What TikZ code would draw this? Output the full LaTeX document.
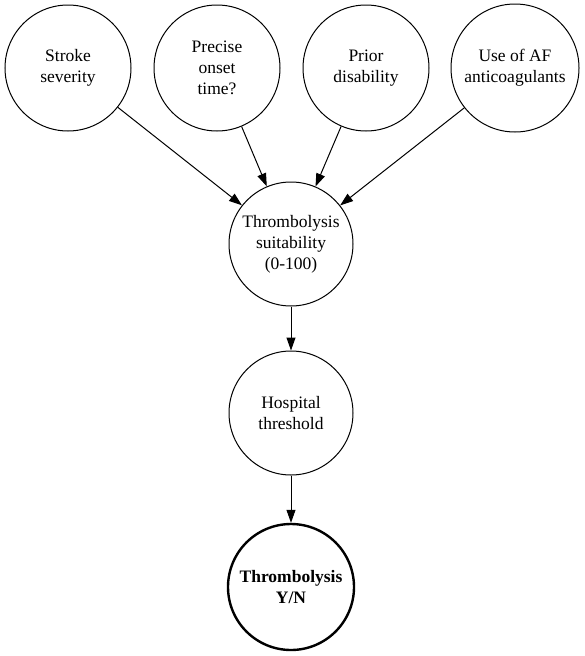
\documentclass[tikz,border=0pt]{standalone}
\usepackage{fontspec}
\setmainfont{Liberation Serif}
\usetikzlibrary{arrows.meta}
\begin{document}
\begin{tikzpicture}[x=1pt,y=-1pt,
  nd/.style={circle,draw,line width=1pt,minimum size=126pt,inner sep=0pt,align=center,font=\fontsize{17.5}{21}\selectfont},
  ndb/.style={nd,line width=2.4pt,font=\fontsize{17.5}{21}\selectfont\bfseries},
  arr/.style={draw,line width=1pt,-{Triangle[length=13pt,width=9pt]}}]
\useasboundingbox (0,0) rectangle (584,656);
\node[nd] (a) at (68,68) {Stroke\\severity};
\node[nd] (b) at (217,68) {Precise\\onset\\time?};
\node[nd] (c) at (366,68) {Prior\\disability};
\node[nd,minimum size=128pt] (d) at (515,68) {Use of AF\\anticoagulants};
\node[nd,minimum size=124pt] (s) at (291,244) {Thrombolysis\\suitability\\(0-100)};
\node[nd,minimum size=124pt] (h) at (291,413) {Hospital\\threshold};
\node[ndb,minimum size=126pt] (y) at (291,587) {Thrombolysis\\Y/N};
\draw[arr] (a) -- (s);
\draw[arr] (b) -- (s);
\draw[arr] (c) -- (s);
\draw[arr] (d) -- (s);
\draw[arr] (s) -- (h);
\draw[arr] (h) -- (y);
\end{tikzpicture}
\end{document}
